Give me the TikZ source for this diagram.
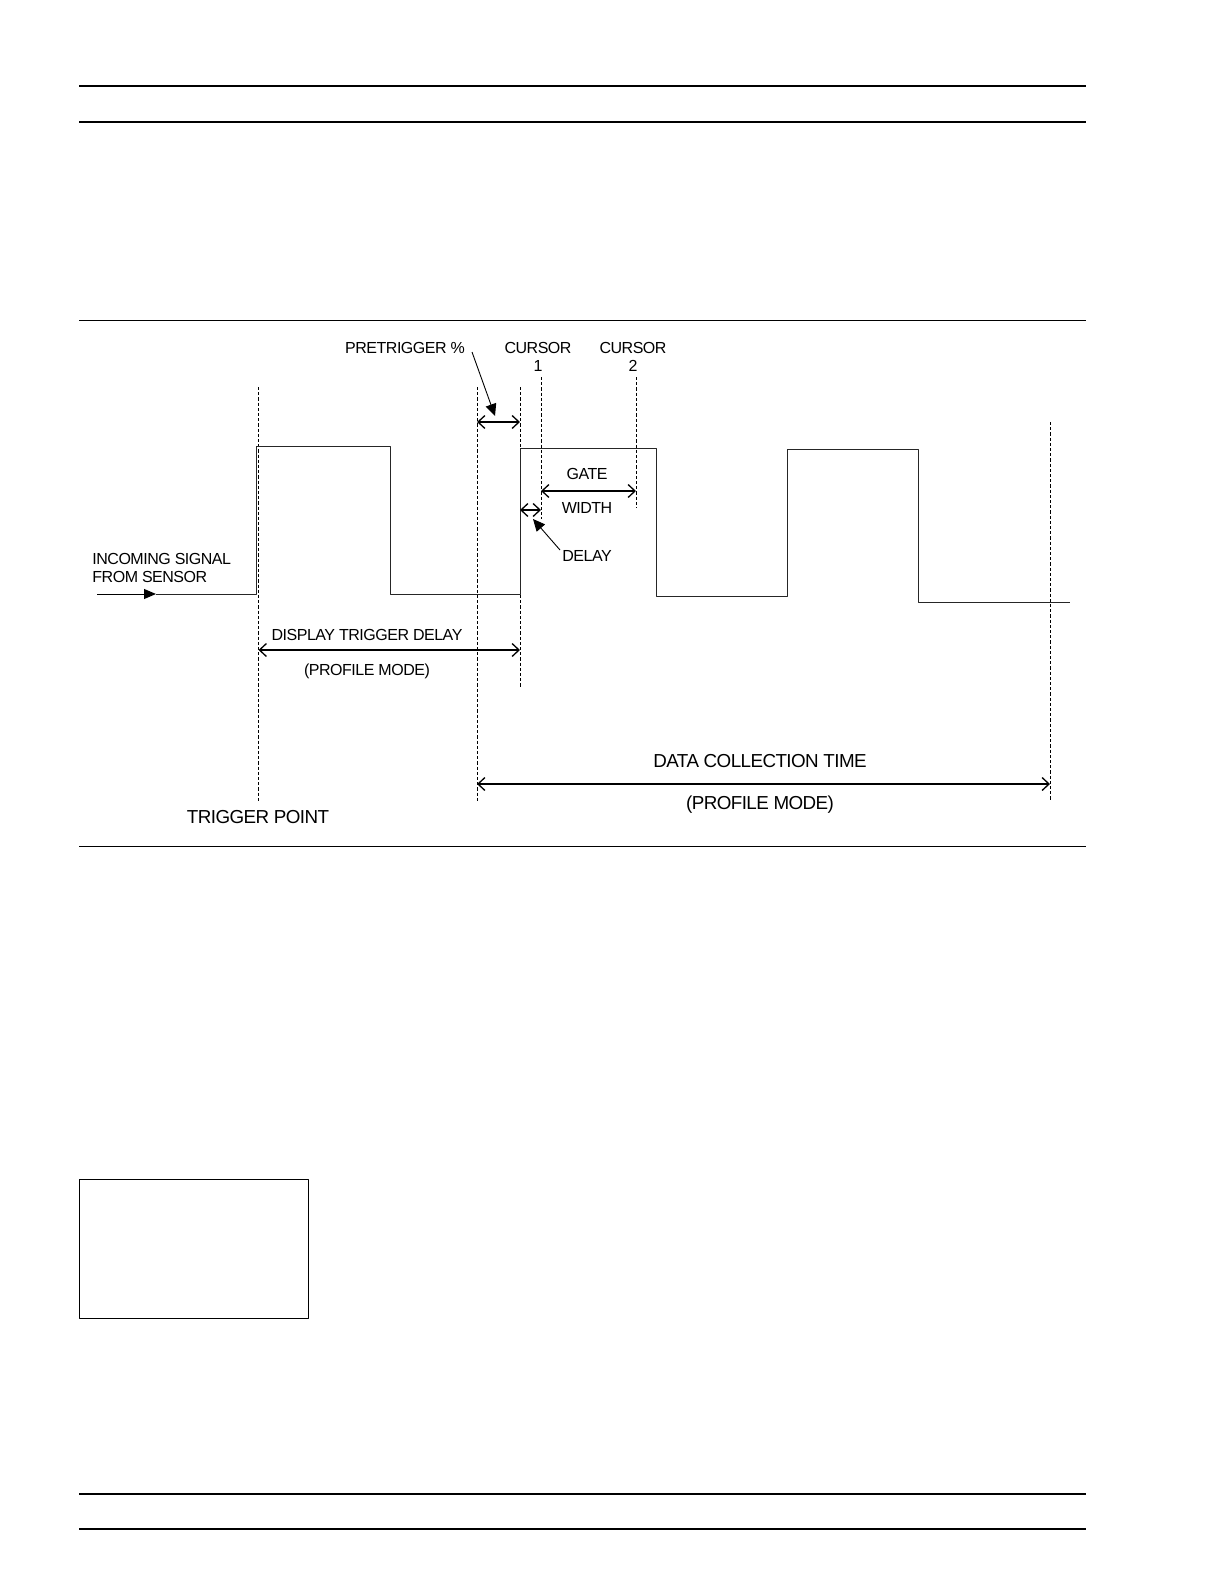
\documentclass[tikz,border=0pt]{standalone}
\usepackage{fontspec}
\setmainfont{Liberation Sans}[LetterSpace=-3]
\usetikzlibrary{arrows.meta}
\tikzset{
  rule/.style={line width=1.1pt},
  thinrule/.style={line width=0.5pt},
  guide/.style={line width=0.45pt, dash pattern=on 1.6pt off 1pt},
  wave/.style={line width=0.5pt, black!85},
  span/.style={line width=0.65pt, {Straight Barb[length=3.5pt,width=6.5pt]}-{Straight Barb[length=3.5pt,width=6.5pt]}},
  pointer/.style={line width=0.45pt, -{Triangle[length=6pt,width=5.5pt]}},
  lbl/.style={inner sep=0pt, text height=5.75pt, text depth=0pt, font=\fontsize{8}{9}\selectfont},
  biglbl/.style={inner sep=0pt, text height=6.7pt, text depth=0pt, font=\fontsize{9.4}{11}\selectfont},
}
\begin{document}
\begin{tikzpicture}[x=0.5pt, y=-0.5pt, line join=round]
\useasboundingbox (0,0) rectangle (1224,1584);
% page rules and box
\foreach \y in {86,122,1494,1529} \draw[rule] (79,\y)--(1086,\y);
\foreach \y in {320,846} \draw[thinrule] (79,\y)--(1086,\y);
\draw[thinrule] (79,1179) rectangle (308,1318);

% dashed guide lines
\path (258.5,387) coordinate (T1) (258.5,801) coordinate (T2)
  (477,387) coordinate (P1) (477,801) coordinate (P2)
  (520,387) coordinate (S1) (520,687) coordinate (S2)
  (541,377) coordinate (C1) (541,519) coordinate (C2)
  (636,377) coordinate (D1) (636,508) coordinate (D2)
  (1050,422) coordinate (E1) (1050,801) coordinate (E2);
\foreach \x in {T,P,S,C,D,E} \draw[guide] (\x1)--(\x2);

% signal
\path (97,594) coordinate (in) (156,594) coordinate (tip);
\draw[line width=0.5pt, -{Triangle[length=6pt,width=5pt]}] (in)--(tip);
\draw[wave] (tip)--(256,594)--(256,446)--(390,446)--(390,594)--(520,594)--(520,448)--(656,448)--(656,596)
  --(787,596)--(787,449)--(918,449)--(918,602)--(1070,602);

% spans
\path (477,422) coordinate (pa) (520,422) coordinate (pb)
  (541,491) coordinate (ga) (636,491) coordinate (gb)
  (520,510) coordinate (da) (541,510) coordinate (db)
  (258.5,650) coordinate (ta) (520,650) coordinate (tb)
  (477,784) coordinate (ca) (1050,784) coordinate (cb);
\foreach \a/\b in {pa/pb,ga/gb,da/db,ta/tb,ca/cb} \draw[span] (\a)--(\b);

% labels
\node[lbl] (pretrig) at (405,348) {PRETRIGGER \%};
\node[lbl] (cur1) at (538,348) {CURSOR};
\node[lbl] (one) at (538,366) {1};
\node[lbl] (cur2) at (633,348) {CURSOR};
\node[lbl] (two) at (633,366) {2};
\node[lbl] (gate) at (587,474) {GATE};
\node[lbl] (width) at (587,508) {WIDTH};
\node[lbl] (delay) at (587,556) {DELAY};
\node[lbl, anchor=west] (incoming) at (92,559) {INCOMING SIGNAL};
\node[lbl, anchor=west] (sensor) at (92,577) {FROM SENSOR};
\node[lbl] (dtd) at (367,635) {DISPLAY TRIGGER DELAY};
\node[lbl] (dtdmode) at (367,670) {(PROFILE MODE)};
\node[biglbl] (dct) at (760,761) {DATA COLLECTION TIME};
\node[biglbl] (dctmode) at (760,803) {(PROFILE MODE)};
\node[biglbl] (trig) at (258,817) {TRIGGER POINT};

% pointers
\path (472,352) coordinate (pr0) (495,416) coordinate (pr1)
  (560,550) coordinate (dl0) (533,519) coordinate (dl1);
\draw[pointer] (pr0)--(pr1);
\draw[pointer] (dl0)--(dl1);
\end{tikzpicture}
\end{document}
